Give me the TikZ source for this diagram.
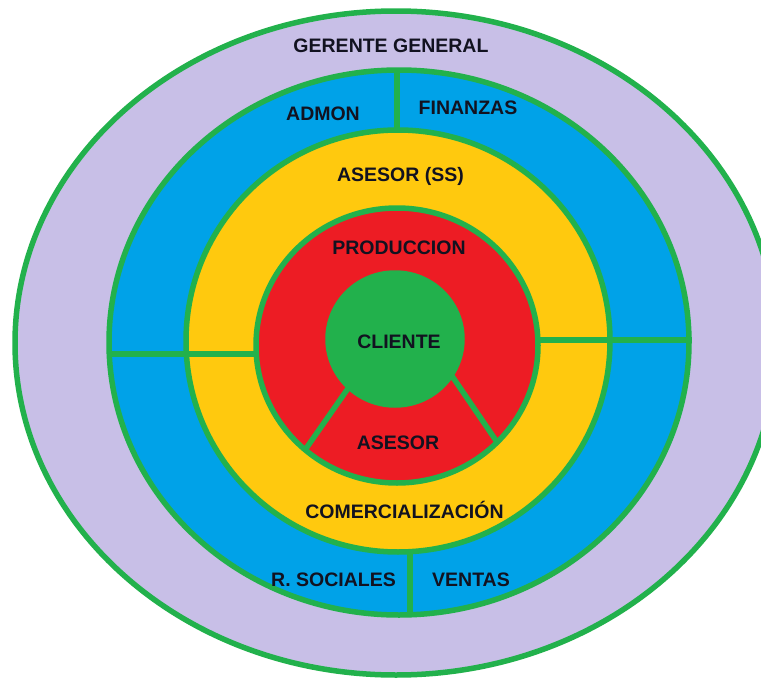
\documentclass[tikz,border=0pt]{standalone}
\usepackage{fontspec}
\setmainfont{Liberation Sans}
\definecolor{lav}{RGB}{200,191,231}
\definecolor{blu}{RGB}{0,162,232}
\definecolor{yel}{RGB}{255,201,14}
\definecolor{rd}{RGB}{237,28,36}
\definecolor{grn}{RGB}{34,177,76}
\definecolor{ink}{RGB}{18,18,32}
\tikzset{
  ring/.style={draw=grn, line width=5.5pt},
  sep/.style={draw=grn, line width=5.5pt},
  lbl/.style={inner sep=0pt, text=ink, font=\fontsize{19.5}{22}\selectfont\bfseries}
}
\begin{document}
\begin{tikzpicture}[x=1pt,y=-1pt]
\clip (0,0) rectangle (761,680);
\fill[white] (0,0) rectangle (761,680);
% rings
\draw[ring, fill=lav] (396,343) ellipse [x radius=381, y radius=332];
\draw[ring, fill=blu] (399,342.5) ellipse [x radius=290, y radius=272.5];
\draw[ring, fill=yel] (398,341) ellipse [x radius=212, y radius=211];
\draw[ring, fill=rd] (397,345.5) ellipse [x radius=141, y radius=137.5];
\draw[ring, fill=grn] (395,339) ellipse [x radius=67, y radius=66];
% separator end points
\coordinate (hl1) at (110,354); \coordinate (hl2) at (257,354);
\coordinate (hr1) at (536,340); \coordinate (hr2) at (692,340);
\coordinate (vt1) at (397,68);  \coordinate (vt2) at (397,131);
\coordinate (vb1) at (410,551); \coordinate (vb2) at (410,616);
\coordinate (sl1) at (349,387); \coordinate (sl2) at (305,450);
\coordinate (sr1) at (452,376); \coordinate (sr2) at (497,442);
\draw[sep] (hl1) -- (hl2);
\draw[sep] (hr1) -- (hr2);
\draw[sep] (vt1) -- (vt2);
\draw[sep] (vb1) -- (vb2);
\draw[sep] (sl1) -- (sl2);
\draw[sep] (sr1) -- (sr2);
% labels
\node[lbl] (gg) at (391,45.5) {GERENTE GENERAL};
\node[lbl] (adm) at (323,114) {ADMON};
\node[lbl] (fin) at (468,107.5) {FINANZAS};
\node[lbl] (ass) at (400.5,176) {ASESOR (SS)};
\node[lbl] (pro) at (399,247.5) {PRODUCCION};
\node[lbl] (cli) at (399,341.5) {CLIENTE};
\node[lbl] (ase) at (398,442.5) {ASESOR};
\node[lbl, anchor=base] (com) at (404.5,518) {COMERCIALIZACIÓN};
\node[lbl] (rso) at (333.5,580) {R. SOCIALES};
\node[lbl] (ven) at (471,580) {VENTAS};
\end{tikzpicture}
\end{document}
